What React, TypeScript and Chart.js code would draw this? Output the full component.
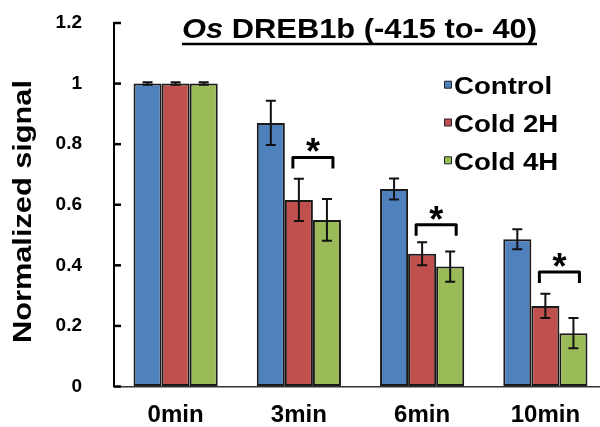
import React, { useEffect, useRef } from "react";
import { Chart, registerables } from "chart.js";

Chart.register(...registerables);

// ---- data ----
const categories = ["0min", "3min", "6min", "10min"];
const seriesNames = ["Control", "Cold 2H", "Cold 4H"];
const control = [1, 0.87, 0.652, 0.486];
const cold2H = [1, 0.616, 0.438, 0.266];
const cold4H = [1, 0.55, 0.396, 0.176];
const errControl = [0.004, 0.073, 0.035, 0.033];
const errCold2H = [0.004, 0.07, 0.038, 0.04];
const errCold4H = [0.004, 0.069, 0.05, 0.05];
const bracketLevel: (number | null)[] = [null, 0.756, 0.534, 0.378];
const sigMark = ["", "*", "*", "*"];
const yTicks = [0, 0.2, 0.4, 0.6, 0.8, 1, 1.2];
const titleItalic = "Os";
const titleRest = " DREB1b (-415 to- 40)";
const yTitle = "Normalized signal";

const colors = ["#4F81BD", "#C0504D", "#9BBB59"];
const FONT = '"Liberation Sans", Arial, Helvetica, sans-serif';

const overlay = {
  id: "overlay",
  afterDatasetsDraw(chart: any) {
    const ctx: CanvasRenderingContext2D = chart.ctx;
    const y = chart.scales.y;
    const area = chart.chartArea;
    const errs = [errControl, errCold2H, errCold4H];
    ctx.save();

    // inward tick marks on y axis
    ctx.strokeStyle = "#000";
    ctx.lineWidth = 2.5;
    yTicks.forEach((v) => {
      const py = y.getPixelForValue(v);
      ctx.beginPath();
      ctx.moveTo(area.left, py);
      ctx.lineTo(area.left + 7, py);
      ctx.stroke();
    });

    // error bars
    ctx.strokeStyle = "#111";
    ctx.lineWidth = 2;
    chart.data.datasets.forEach((ds: any, i: number) => {
      const meta = chart.getDatasetMeta(i);
      meta.data.forEach((bar: any, j: number) => {
        const v = ds.data[j];
        const e = errs[i][j];
        const x = bar.x;
        const yt = y.getPixelForValue(v + e);
        const yb = y.getPixelForValue(v - e);
        ctx.beginPath();
        ctx.moveTo(x, yt);
        ctx.lineTo(x, yb);
        ctx.moveTo(x - 5, yt);
        ctx.lineTo(x + 5, yt);
        ctx.moveTo(x - 5, yb);
        ctx.lineTo(x + 5, yb);
        ctx.stroke();
      });
    });

    // significance brackets
    const m1 = chart.getDatasetMeta(1);
    const m2 = chart.getDatasetMeta(2);
    bracketLevel.forEach((lvl, j) => {
      if (lvl == null) return;
      const x1 = m1.data[j].x - 6;
      const x2 = m2.data[j].x + 6;
      const yt = y.getPixelForValue(lvl);
      ctx.strokeStyle = "#000";
      ctx.lineWidth = 3;
      ctx.lineJoin = "round";
      ctx.beginPath();
      ctx.moveTo(x1, yt + 11);
      ctx.lineTo(x1, yt);
      ctx.lineTo(x2, yt);
      ctx.lineTo(x2, yt + 11);
      ctx.stroke();
      ctx.fillStyle = "#000";
      ctx.font = `bold 36px ${FONT}`;
      ctx.textAlign = "center";
      ctx.textBaseline = "alphabetic";
      ctx.fillText(sigMark[j], (x1 + x2) / 2, yt - 12 + 19);
    });

    // legend
    ctx.textAlign = "left";
    ctx.textBaseline = "alphabetic";
    seriesNames.forEach((name, i) => {
      const cy = 84.7 + i * 37.8;
      ctx.fillStyle = colors[i];
      ctx.fillRect(444.5, cy - 3.5, 7, 7);
      ctx.strokeStyle = "#222";
      ctx.lineWidth = 1;
      ctx.strokeRect(444.5, cy - 3.5, 7, 7);
      ctx.fillStyle = "#000";
      ctx.font = `bold 24px ${FONT}`;
      ctx.save();
      ctx.translate(454, cy + 9.3);
      ctx.scale(1.15, 1);
      ctx.fillText(name, 0, 0);
      ctx.restore();
    });

    // title
    ctx.font = `italic bold 28px ${FONT}`;
    const w1 = ctx.measureText(titleItalic).width;
    ctx.font = `bold 28px ${FONT}`;
    const w2 = ctx.measureText(titleRest).width;
    const tLeft = 182;
    const tWidth = 355;
    const sx = tWidth / (w1 + w2);
    ctx.save();
    ctx.translate(tLeft, 38.3);
    ctx.scale(sx, 1);
    ctx.fillStyle = "#000";
    ctx.font = `italic bold 28px ${FONT}`;
    ctx.fillText(titleItalic, 0, 0);
    ctx.font = `bold 28px ${FONT}`;
    ctx.fillText(titleRest, w1, 0);
    ctx.restore();
    ctx.strokeStyle = "#000";
    ctx.lineWidth = 2.5;
    ctx.beginPath();
    ctx.moveTo(tLeft, 44);
    ctx.lineTo(tLeft + tWidth, 44);
    ctx.stroke();

    // y title
    ctx.font = `bold 25px ${FONT}`;
    const wy = ctx.measureText(yTitle).width;
    ctx.save();
    ctx.translate(30.7, 211.5);
    ctx.rotate(-Math.PI / 2);
    ctx.scale(263 / wy, 1);
    ctx.textAlign = "center";
    ctx.fillStyle = "#000";
    ctx.fillText(yTitle, 0, 0);
    ctx.restore();

    ctx.restore();
  },
};

export default function App() {
  const ref = useRef<HTMLCanvasElement | null>(null);
  useEffect(() => {
    if (!ref.current) return;
    const chart = new Chart(ref.current, {
      type: "bar",
      data: {
        labels: categories,
        datasets: [control, cold2H, cold4H].map((d, i) => ({
          label: seriesNames[i],
          data: d,
          backgroundColor: colors[i],
          borderColor: "#1a1a1a",
          borderWidth: 2,
          borderSkipped: false,
          categoryPercentage: 0.683,
          barPercentage: 1.0,
        })),
      },
      options: {
        responsive: false,
        animation: false,
        layout: { padding: { top: 23, left: 0, right: 0, bottom: 0 } },
        plugins: {
          legend: { display: false },
          title: { display: false },
          tooltip: { enabled: false },
        },
        scales: {
          x: {
            type: "category",
            offset: true,
            grid: { display: true, drawOnChartArea: false, drawTicks: false },
            border: { display: true, color: "#333", width: 1.5 },
            ticks: {
              font: { family: FONT, size: 24, weight: "bold" },
              color: "#000",
              padding: 14,
            },
            afterFit: (s: any) => {
              s.height = 40.5;
              s.paddingLeft = 0;
              s.paddingRight = 0;
            },
          },
          y: {
            min: 0,
            max: 1.2,
            grid: { display: true, drawOnChartArea: false, drawTicks: false },
            border: { display: true, color: "#000", width: 2 },
            ticks: {
              font: { family: FONT, size: 19, weight: "bold" },
              color: "#000",
              padding: 32,
              callback: (v: any) => String(Number(Number(v).toFixed(1))),
            },
            afterBuildTicks: (s: any) => {
              s.ticks = yTicks.map((v) => ({ value: v }));
            },
            afterFit: (s: any) => {
              s.width = 114;
              s.paddingTop = 0;
              s.paddingBottom = 0;
            },
          },
        },
      } as any,
      plugins: [overlay],
    });
    return () => chart.destroy();
  }, []);
  return (
    <div
      style={{
        position: "fixed",
        left: 0,
        top: 0,
        width: 600,
        height: 427,
        overflow: "hidden",
        background: "#fff",
      }}
    >
      <canvas ref={ref} width={607} height={427} style={{ display: "block" }} />
    </div>
  );
}
